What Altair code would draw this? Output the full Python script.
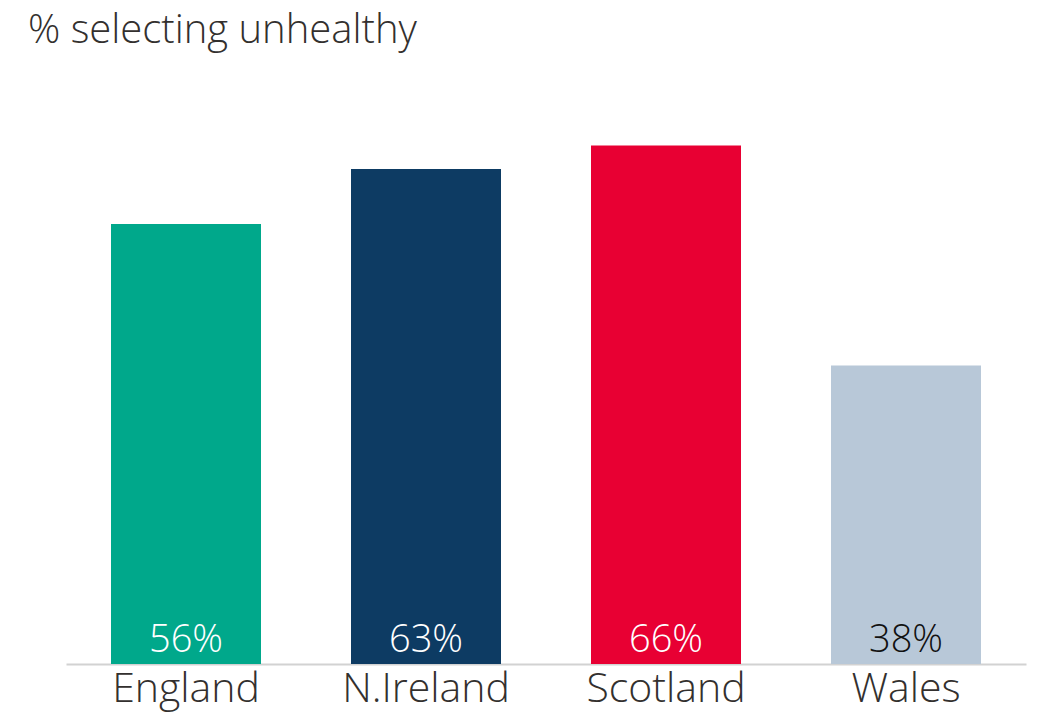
import altair as alt
import pandas as pd

countries = ["England", "N.Ireland", "Scotland", "Wales"]
values = [56, 63, 66, 38]
labels = ["56%", "63%", "66%", "38%"]
colors = ["#00a88b", "#0d3b63", "#e80033", "#b8c8d8"]

df = pd.DataFrame({"country": countries, "value": values, "label": labels})

FONT = "Open Sans"

x = alt.X("country:N", sort=countries, title=None,
          scale=alt.Scale(paddingInner=0.375, paddingOuter=0.1875),
          axis=alt.Axis(labelAngle=0, labelFont=FONT, labelFontSize=41, labelFontWeight=300,
                        labelColor="#33302e", ticks=False, labelPadding=5,
                        domainColor="#d2d2d2", domainWidth=2))

bars = alt.Chart(df).mark_bar().encode(
    x=x,
    y=alt.Y("value:Q", scale=alt.Scale(domain=[0, 70]), axis=None),
    color=alt.Color("country:N", scale=alt.Scale(domain=countries, range=colors), legend=None),
)

text = alt.Chart(df).mark_text(baseline="alphabetic", dy=-12, font=FONT, fontSize=38,
                               fontWeight=300).encode(
    x=alt.X("country:N", sort=countries),
    y=alt.datum(0),
    text="label:N",
    color=alt.condition(alt.datum.country == "Wales", alt.value("#111111"), alt.value("#ffffff")),
)

chart = alt.layer(bars, text).properties(
    width=960,
    height=550,
    autosize=alt.AutoSizeParams(type="none"),
    padding={"left": 58, "top": 106, "right": 10, "bottom": 52},
    title=alt.TitleParams("% selecting unhealthy", anchor="start", frame="group",
                          font=FONT, fontSize=40, fontWeight=300, color="#33302e",
                          dx=-38, offset=71, dy=40, baseline="alphabetic"),
).configure_view(stroke=None)

chart.save("out.html", embed_options={"renderer": "svg", "actions": False})
